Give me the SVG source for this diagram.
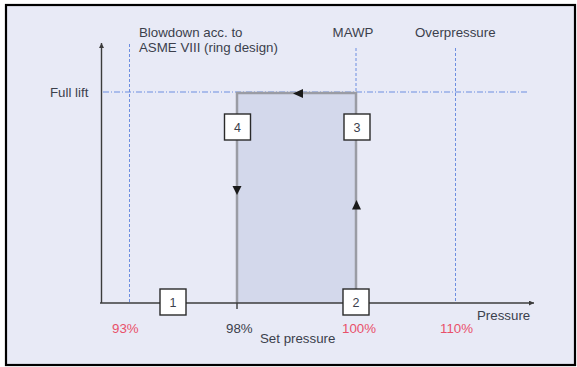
<svg xmlns="http://www.w3.org/2000/svg" width="577" height="367" viewBox="0 0 577 367">
<defs>
<style>
text{font-family:"Liberation Sans",Arial,sans-serif;font-size:13.3px;fill:#3b3f4c}
.pct{fill:#e8506a}
.num{font-size:12.5px;text-anchor:middle}
.axis{stroke:#3c3c3c;stroke-width:1.4;fill:none}
.dash{stroke:#6d8ee0;stroke-width:1;stroke-dasharray:3 2;fill:none}
.dashdot{stroke:#6d8ee0;stroke-width:1;stroke-dasharray:6 2 1 2;fill:none}
.box{fill:#ffffff;stroke:#2a2a2a;stroke-width:1.4}
.edge{stroke:#9a9ca4;stroke-width:2.5;fill:none}
.tri{fill:#1a1a1a}
</style>
<marker id="ah" viewBox="0 0 10 10" refX="10" refY="5" markerWidth="5" markerHeight="5" orient="auto" markerUnits="userSpaceOnUse">
<path d="M0,0 L10,5 L0,10 z" fill="#3c3c3c"/>
</marker>
</defs>
<rect x="0" y="0" width="577" height="367" fill="#ffffff"/>
<rect x="6" y="5" width="569" height="360" fill="#e8eaf6" stroke="#000" stroke-width="2.2"/>
<g id="guides">
<line class="dash" x1="129.5" y1="44" x2="129.5" y2="302"/>
<line class="dash" x1="356" y1="48" x2="356" y2="93"/>
<line class="dash" x1="455.5" y1="48" x2="455.5" y2="302"/>
<line class="dashdot" x1="103" y1="92" x2="528" y2="92"/>
</g>
<g id="cycle-area">
<rect x="237" y="93" width="119" height="210" fill="#d3d8eb"/>
</g>
<g id="connectors">
<path class="edge" d="M237,303 L237,93 L356,93 L356,303"/>
<line class="axis" x1="101.5" y1="303" x2="101.5" y2="43" marker-end="url(#ah)"/>
<line class="axis" x1="100" y1="303" x2="534" y2="303" marker-end="url(#ah)"/>
<line class="axis" x1="237" y1="303" x2="237" y2="309"/>
<path class="tri" d="M293,93.5 L303,89 L303,98 z"/>
<path class="tri" d="M232.5,186 L241.5,186 L237,195 z"/>
<path class="tri" d="M356.5,200 L361,209.5 L352,209.5 z"/>
</g>
<g id="node-1"><rect class="box" x="160" y="289" width="26" height="26"/><text class="num" x="173" y="307">1</text></g>
<g id="node-2"><rect class="box" x="343" y="289" width="26" height="26"/><text class="num" x="356" y="307">2</text></g>
<g id="node-3"><rect class="box" x="344" y="114" width="26" height="26"/><text class="num" x="357" y="132">3</text></g>
<g id="node-4"><rect class="box" x="224.5" y="114" width="26" height="26"/><text class="num" x="237.5" y="132">4</text></g>
<g id="labels">
<text x="139" y="37">Blowdown acc. to</text>
<text x="139" y="52">ASME VIII (ring design)</text>
<text x="353" y="37" text-anchor="middle">MAWP</text>
<text x="415" y="37">Overpressure</text>
<text x="50" y="97">Full lift</text>
<text x="477" y="320">Pressure</text>
<text class="pct" x="112" y="333">93%</text>
<text x="226" y="333">98%</text>
<text x="260" y="343">Set pressure</text>
<text class="pct" x="342" y="333">100%</text>
<text class="pct" x="440" y="333">110%</text>
</g>
</svg>
